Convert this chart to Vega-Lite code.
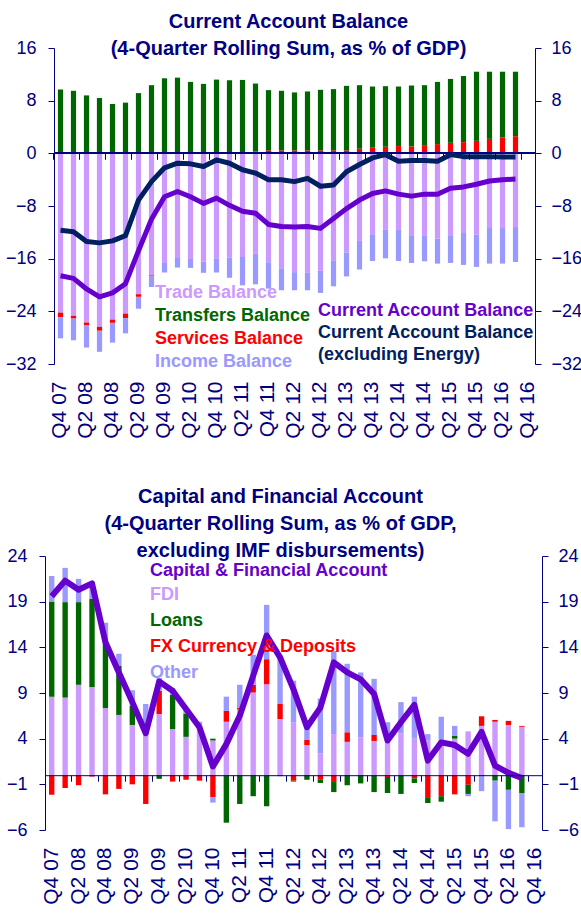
{
  "$schema": "https://vega.github.io/schema/vega-lite/v6.json",
  "background": "white",
  "padding": {"left": 0, "top": 12, "right": 0, "bottom": 0},
  "spacing": 48,
  "config": {
    "view": {"stroke": null},
    "font": "Liberation Sans",
    "axis": {"grid": false, "domainColor": "#000080", "tickColor": "#000080", "labelColor": "#000080", "labelFont": "Liberation Sans", "labelFontSize": 18, "tickSize": 6, "domainWidth": 1, "tickWidth": 1, "title": null}
  },
  "datasets": {
    "ca": [
      {"q": "Q4 07", "Trade Balance": -24.2, "Services Balance": -0.7, "Transfers Balance": 9.7, "Income Balance": -3.2, "ca": -18.6, "caxe": -11.7},
      {"q": "Q1 08", "Trade Balance": -24.7, "Services Balance": -0.4, "Transfers Balance": 9.5, "Income Balance": -3.3, "ca": -19.0, "caxe": -11.9},
      {"q": "Q2 08", "Trade Balance": -25.7, "Services Balance": -0.45, "Transfers Balance": 8.8, "Income Balance": -3.35, "ca": -20.6, "caxe": -13.4},
      {"q": "Q3 08", "Trade Balance": -26.35, "Services Balance": -0.6, "Transfers Balance": 8.4, "Income Balance": -3.2, "ca": -21.8, "caxe": -13.6},
      {"q": "Q4 08", "Trade Balance": -25.25, "Services Balance": -0.5, "Transfers Balance": 7.5, "Income Balance": -3.0, "ca": -21.2, "caxe": -13.3},
      {"q": "Q1 09", "Trade Balance": -24.35, "Services Balance": -0.7, "Transfers Balance": 7.7, "Income Balance": -2.3, "ca": -19.8, "caxe": -12.5},
      {"q": "Q2 09", "Trade Balance": -21.4, "Services Balance": -0.4, "Transfers Balance": 9.15, "Income Balance": -1.8, "ca": -14.8, "caxe": -7.1},
      {"q": "Q3 09", "Trade Balance": -18.55, "Services Balance": -0.15, "Transfers Balance": 10.35, "Income Balance": -1.6, "ca": -10.0, "caxe": -4.3},
      {"q": "Q4 09", "Trade Balance": -16.65, "Services Balance": 0, "Transfers Balance": 11.4, "Income Balance": -1.45, "ca": -6.6, "caxe": -2.2},
      {"q": "Q1 10", "Trade Balance": -15.9, "Services Balance": 0, "Transfers Balance": 11.5, "Income Balance": -1.45, "ca": -5.8, "caxe": -1.5},
      {"q": "Q2 10", "Trade Balance": -16.05, "Services Balance": 0, "Transfers Balance": 10.85, "Income Balance": -1.35, "ca": -6.6, "caxe": -1.6},
      {"q": "Q3 10", "Trade Balance": -16.45, "Services Balance": 0, "Transfers Balance": 10.55, "Income Balance": -1.7, "ca": -7.6, "caxe": -2.0},
      {"q": "Q4 10", "Trade Balance": -15.95, "Services Balance": 0, "Transfers Balance": 11.2, "Income Balance": -2.15, "ca": -6.8, "caxe": -1.0},
      {"q": "Q1 11", "Trade Balance": -15.85, "Services Balance": 0.1, "Transfers Balance": 11.0, "Income Balance": -3.05, "ca": -7.9, "caxe": -1.5},
      {"q": "Q2 11", "Trade Balance": -15.75, "Services Balance": 0.2, "Transfers Balance": 10.95, "Income Balance": -4.3, "ca": -8.8, "caxe": -2.5},
      {"q": "Q3 11", "Trade Balance": -15.25, "Services Balance": 0.3, "Transfers Balance": 10.3, "Income Balance": -4.65, "ca": -9.1, "caxe": -3.0},
      {"q": "Q4 11", "Trade Balance": -16.55, "Services Balance": 0.45, "Transfers Balance": 9.15, "Income Balance": -4.0, "ca": -10.8, "caxe": -4.0},
      {"q": "Q1 12", "Trade Balance": -17.55, "Services Balance": 0.45, "Transfers Balance": 9.05, "Income Balance": -3.25, "ca": -11.1, "caxe": -4.0},
      {"q": "Q2 12", "Trade Balance": -18.05, "Services Balance": 0.45, "Transfers Balance": 8.8, "Income Balance": -2.75, "ca": -11.2, "caxe": -4.3},
      {"q": "Q3 12", "Trade Balance": -18.15, "Services Balance": 0.45, "Transfers Balance": 8.95, "Income Balance": -2.65, "ca": -11.1, "caxe": -3.8},
      {"q": "Q4 12", "Trade Balance": -17.85, "Services Balance": 0.45, "Transfers Balance": 9.2, "Income Balance": -3.35, "ca": -11.4, "caxe": -5.0},
      {"q": "Q1 13", "Trade Balance": -16.25, "Services Balance": 0.45, "Transfers Balance": 9.3, "Income Balance": -3.95, "ca": -9.9, "caxe": -4.8},
      {"q": "Q2 13", "Trade Balance": -15.05, "Services Balance": 0.45, "Transfers Balance": 9.8, "Income Balance": -3.65, "ca": -8.4, "caxe": -2.8},
      {"q": "Q3 13", "Trade Balance": -13.3, "Services Balance": 0.7, "Transfers Balance": 9.65, "Income Balance": -4.35, "ca": -7.1, "caxe": -1.7},
      {"q": "Q4 13", "Trade Balance": -12.3, "Services Balance": 0.85, "Transfers Balance": 9.3, "Income Balance": -4.05, "ca": -6.1, "caxe": -0.7},
      {"q": "Q1 14", "Trade Balance": -11.55, "Services Balance": 1.0, "Transfers Balance": 9.2, "Income Balance": -4.4, "ca": -5.7, "caxe": -0.2},
      {"q": "Q2 14", "Trade Balance": -11.55, "Services Balance": 1.1, "Transfers Balance": 9.05, "Income Balance": -4.8, "ca": -6.2, "caxe": -1.2},
      {"q": "Q3 14", "Trade Balance": -12.55, "Services Balance": 1.05, "Transfers Balance": 9.25, "Income Balance": -4.1, "ca": -6.5, "caxe": -1.1},
      {"q": "Q4 14", "Trade Balance": -12.45, "Services Balance": 1.25, "Transfers Balance": 9.1, "Income Balance": -3.95, "ca": -6.2, "caxe": -1.1},
      {"q": "Q1 15", "Trade Balance": -12.95, "Services Balance": 1.4, "Transfers Balance": 9.45, "Income Balance": -3.8, "ca": -6.2, "caxe": -1.2},
      {"q": "Q2 15", "Trade Balance": -12.55, "Services Balance": 1.6, "Transfers Balance": 9.7, "Income Balance": -4.1, "ca": -5.3, "caxe": -0.2},
      {"q": "Q3 15", "Trade Balance": -12.1, "Services Balance": 1.7, "Transfers Balance": 10.05, "Income Balance": -4.85, "ca": -5.1, "caxe": -0.5},
      {"q": "Q4 15", "Trade Balance": -12.35, "Services Balance": 1.9, "Transfers Balance": 10.5, "Income Balance": -4.9, "ca": -4.7, "caxe": -0.5},
      {"q": "Q1 16", "Trade Balance": -11.35, "Services Balance": 2.2, "Transfers Balance": 10.2, "Income Balance": -5.4, "ca": -4.2, "caxe": -0.5},
      {"q": "Q2 16", "Trade Balance": -11.35, "Services Balance": 2.4, "Transfers Balance": 10.0, "Income Balance": -5.4, "ca": -4.0, "caxe": -0.55},
      {"q": "Q3 16", "Trade Balance": -11.2, "Services Balance": 2.6, "Transfers Balance": 9.8, "Income Balance": -5.3, "ca": -3.9, "caxe": -0.55}
    ],
    "cfa": [
      {"q": "Q4 07", "FDI": 8.6, "Loans": 10.35, "FX Currency & Deposits": -2.15, "Other": 2.85, "cfa": 19.6},
      {"q": "Q1 08", "FDI": 8.5, "Loans": 10.45, "FX Currency & Deposits": -1.4, "Other": 3.75, "cfa": 21.3},
      {"q": "Q2 08", "FDI": 9.9, "Loans": 9.05, "FX Currency & Deposits": -1.1, "Other": 2.55, "cfa": 20.3},
      {"q": "Q3 08", "FDI": 9.65, "Loans": 9.65, "FX Currency & Deposits": -0.15, "Other": 1.8, "cfa": 21.0},
      {"q": "Q4 08", "FDI": 7.35, "Loans": 7.05, "FX Currency & Deposits": -2.1, "Other": 2.3, "cfa": 14.55},
      {"q": "Q1 09", "FDI": 6.6, "Loans": 5.4, "FX Currency & Deposits": -1.5, "Other": 1.3, "cfa": 11.25},
      {"q": "Q2 09", "FDI": 5.5, "Loans": 2.1, "FX Currency & Deposits": -1.0, "Other": 1.7, "cfa": 8.0},
      {"q": "Q3 09", "FDI": 5.0, "Loans": 0, "FX Currency & Deposits": -3.15, "Other": 2.8, "cfa": 4.6},
      {"q": "Q4 09", "FDI": 6.7, "Loans": -0.4, "FX Currency & Deposits": 2.55, "Other": 1.4, "cfa": 10.25},
      {"q": "Q1 10", "FDI": 5.05, "Loans": 3.75, "FX Currency & Deposits": -0.7, "Other": 0.7, "cfa": 9.25},
      {"q": "Q2 10", "FDI": 4.2, "Loans": 2.5, "FX Currency & Deposits": -0.5, "Other": 0.6, "cfa": 7.25},
      {"q": "Q3 10", "FDI": 5.2, "Loans": 0, "FX Currency & Deposits": -0.6, "Other": 0.65, "cfa": 5.25},
      {"q": "Q4 10", "FDI": 3.8, "Loans": 0.2, "FX Currency & Deposits": -2.4, "Other": -0.6, "cfa": 0.95},
      {"q": "Q1 11", "FDI": 5.85, "Loans": -5.2, "FX Currency & Deposits": 1.2, "Other": 1.55, "cfa": 3.4},
      {"q": "Q2 11", "FDI": 7.2, "Loans": -3.15, "FX Currency & Deposits": 0.2, "Other": 2.5, "cfa": 6.5},
      {"q": "Q3 11", "FDI": 9.05, "Loans": -2.3, "FX Currency & Deposits": 0.85, "Other": 3.3, "cfa": 10.9},
      {"q": "Q4 11", "FDI": 9.95, "Loans": -3.4, "FX Currency & Deposits": 2.75, "Other": 5.95, "cfa": 15.3},
      {"q": "Q1 12", "FDI": 6.15, "Loans": -0.1, "FX Currency & Deposits": 1.7, "Other": 5.25, "cfa": 12.9},
      {"q": "Q2 12", "FDI": 5.8, "Loans": -0.1, "FX Currency & Deposits": -0.6, "Other": 4.55, "cfa": 9.4},
      {"q": "Q3 12", "FDI": 3.3, "Loans": -0.5, "FX Currency & Deposits": 0.6, "Other": 1.85, "cfa": 5.25},
      {"q": "Q4 12", "FDI": 2.4, "Loans": -0.35, "FX Currency & Deposits": -0.5, "Other": 6.0, "cfa": 7.4},
      {"q": "Q1 13", "FDI": 4.5, "Loans": -1.1, "FX Currency & Deposits": -0.75, "Other": 9.1, "cfa": 12.35},
      {"q": "Q2 13", "FDI": 3.65, "Loans": -1.1, "FX Currency & Deposits": 1.05, "Other": 7.5, "cfa": 11.25},
      {"q": "Q3 13", "FDI": 4.15, "Loans": -0.9, "FX Currency & Deposits": 0, "Other": 7.1, "cfa": 10.5},
      {"q": "Q4 13", "FDI": 3.75, "Loans": -1.85, "FX Currency & Deposits": 0.65, "Other": 6.15, "cfa": 8.9},
      {"q": "Q1 14", "FDI": 4.0, "Loans": -1.75, "FX Currency & Deposits": -0.2, "Other": 1.8, "cfa": 3.8},
      {"q": "Q2 14", "FDI": 4.6, "Loans": -2.05, "FX Currency & Deposits": 0, "Other": 3.4, "cfa": 5.8},
      {"q": "Q3 14", "FDI": 4.0, "Loans": -0.5, "FX Currency & Deposits": -0.35, "Other": 4.6, "cfa": 7.7},
      {"q": "Q4 14", "FDI": 3.8, "Loans": -0.65, "FX Currency & Deposits": -2.4, "Other": 0.7, "cfa": 1.6},
      {"q": "Q1 15", "FDI": 3.9, "Loans": -0.6, "FX Currency & Deposits": -2.3, "Other": 2.5, "cfa": 3.6},
      {"q": "Q2 15", "FDI": 4.0, "Loans": 0.3, "FX Currency & Deposits": -2.1, "Other": 1.1, "cfa": 3.3},
      {"q": "Q3 15", "FDI": 4.8, "Loans": -1.0, "FX Currency & Deposits": -1.05, "Other": -0.25, "cfa": 2.35},
      {"q": "Q4 15", "FDI": 5.4, "Loans": -0.1, "FX Currency & Deposits": 1.05, "Other": -1.65, "cfa": 4.75},
      {"q": "Q1 16", "FDI": 5.85, "Loans": -0.6, "FX Currency & Deposits": 0.2, "Other": -4.45, "cfa": 1.05},
      {"q": "Q2 16", "FDI": 5.5, "Loans": -1.6, "FX Currency & Deposits": 0.45, "Other": -4.3, "cfa": 0.25},
      {"q": "Q3 16", "FDI": 5.3, "Loans": -1.95, "FX Currency & Deposits": 0.1, "Other": -3.75, "cfa": -0.3}
    ]
  },
  "vconcat": [
    {
      "width": 490,
      "height": 316,
      "title": {"text": ["Current Account Balance", "(4-Quarter Rolling Sum, as % of GDP)"], "font": "Liberation Sans", "fontSize": 20, "fontWeight": "bold", "color": "#000080", "lineHeight": 27, "anchor": "middle", "frame": "group", "dx": -1.5, "offset": -20},
      "data": {"name": "ca"},
      "layer": [
        {
          "transform": [
            {"fold": ["Trade Balance", "Services Balance", "Transfers Balance", "Income Balance"]},
            {"window": [{"op": "row_number", "as": "k"}], "groupby": ["q"]}
          ],
          "mark": {"type": "bar", "width": {"band": 0.4}},
          "encoding": {
            "x": {"field": "q", "type": "nominal", "sort": null,
              "scale": {"domain": ["Q4 07","Q1 08","Q2 08","Q3 08","Q4 08","Q1 09","Q2 09","Q3 09","Q4 09","Q1 10","Q2 10","Q3 10","Q4 10","Q1 11","Q2 11","Q3 11","Q4 11","Q1 12","Q2 12","Q3 12","Q4 12","Q1 13","Q2 13","Q3 13","Q4 13","Q1 14","Q2 14","Q3 14","Q4 14","Q1 15","Q2 15","Q3 15","Q4 15","Q1 16","Q2 16","Q3 16","Q4 16"], "paddingInner": 0, "paddingOuter": 0.346, "align": 1},
              "axis": {"orient": "bottom", "values": ["Q4 07","Q2 08","Q4 08","Q2 09","Q4 09","Q2 10","Q4 10","Q2 11","Q4 11","Q2 12","Q4 12","Q2 13","Q4 13","Q2 14","Q4 14","Q2 15","Q4 15","Q2 16","Q4 16"], "domain": false, "ticks": false, "labelAngle": -90, "labelPadding": 17, "labelFontSize": 21, "labelOverlap": false, "labelBound": false, "title": null}},
            "y": {"field": "value", "type": "quantitative", "stack": "zero",
              "scale": {"domain": [-32, 16], "nice": false, "zero": false},
              "axis": {"orient": "left", "offset": -9, "values": [-32, -24, -16, -8, 0, 8, 16], "labelPadding": 12, "minExtent": 45, "maxExtent": 45, "title": null}},
            "fill": {"field": "key", "type": "nominal",
              "scale": {"domain": ["Trade Balance", "Transfers Balance", "Services Balance", "Income Balance"], "range": ["#CC99FF", "#006600", "#FF0000", "#9999FF"]},
              "legend": {"orient": "none", "legendX": 92, "legendY": 236, "title": null, "symbolSize": 0, "symbolStrokeWidth": 0, "symbolOpacity": 0, "labelOffset": 0, "labelFont": "Liberation Sans", "labelFontWeight": "bold", "labelFontSize": 18, "labelLimit": 600, "rowPadding": 5, "padding": 0,
                "encode": {"labels": {"update": {"fill": {"signal": "datum.value == 'Trade Balance' ? '#CC99FF' : datum.value == 'Transfers Balance' ? '#006600' : datum.value == 'Services Balance' ? '#FF0000' : '#9999FF'"}}}}}},
            "order": {"field": "k", "type": "quantitative", "sort": "ascending"}
          }
        },
        {
          "mark": {"type": "rule", "color": "#000080", "strokeWidth": 1},
          "encoding": {
            "x": {"datum": "Q4 07", "type": "nominal", "bandPosition": 0, "axis": null},
            "x2": {"value": "width"},
            "y": {"datum": 0, "type": "quantitative", "axis": null}
          }
        },
        {
          "mark": {"type": "line", "strokeWidth": 5, "strokeJoin": "round"},
          "encoding": {
            "x": {"field": "q", "type": "nominal", "sort": null, "axis": null},
            "y": {"field": "caxe", "type": "quantitative", "axis": null},
            "stroke": {"datum": "Current Account Balance (excluding Energy)", "type": "nominal"}
          }
        },
        {
          "mark": {"type": "line", "strokeWidth": 5, "strokeJoin": "round"},
          "encoding": {
            "x": {"field": "q", "type": "nominal", "sort": null,
              "axis": {"orient": "bottom", "offset": -210.7, "values": ["Q4 07","Q2 08","Q4 08","Q2 09","Q4 09","Q2 10","Q4 10","Q2 11","Q4 11","Q2 12","Q4 12","Q2 13","Q4 13","Q2 14","Q4 14","Q2 15","Q4 15","Q2 16","Q4 16"], "labels": false, "domain": false, "bandPosition": 0, "tickSize": 6, "title": null, "zindex": 1}},
            "y": {"field": "ca", "type": "quantitative",
              "axis": {"orient": "right", "values": [-32, -24, -16, -8, 0, 8, 16], "labelPadding": 10, "title": null}},
            "stroke": {"datum": "Current Account Balance", "type": "nominal",
              "scale": {"domain": ["Current Account Balance", "Current Account Balance (excluding Energy)"], "range": ["#6600CC", "#002060"]},
              "legend": {"orient": "none", "legendX": 255, "legendY": 254, "title": null, "symbolSize": 0, "symbolStrokeWidth": 0, "symbolOpacity": 0, "labelOffset": 0, "labelFont": "Liberation Sans", "labelFontWeight": "bold", "labelFontSize": 18, "labelLimit": 600, "rowPadding": 4, "padding": 0,
                "labelExpr": "datum.label == 'Current Account Balance (excluding Energy)' ? ['Current Account Balance', '(excluding Energy)'] : datum.label",
                "encode": {"labels": {"update": {"lineHeight": {"value": 22}, "fill": {"signal": "datum.value == 'Current Account Balance' ? '#6600CC' : '#002060'"}}}}}}
          }
        }
      ],
      "resolve": {"axis": {"x": "independent", "y": "independent"}}
    },
    {
      "width": 497,
      "height": 274,
      "title": {"text": ["Capital and Financial Account", "(4-Quarter Rolling Sum, as % of GDP,", "excluding IMF disbursements)"], "font": "Liberation Sans", "fontSize": 20, "fontWeight": "bold", "color": "#000080", "lineHeight": 27, "anchor": "middle", "frame": "group", "dx": -13, "offset": -14},
      "data": {"name": "cfa"},
      "layer": [
        {
          "transform": [
            {"fold": ["FDI", "FX Currency & Deposits", "Loans", "Other"]},
            {"window": [{"op": "row_number", "as": "k"}], "groupby": ["q"]}
          ],
          "mark": {"type": "bar", "width": {"band": 0.4}},
          "encoding": {
            "x": {"field": "q", "type": "nominal", "sort": null,
              "scale": {"domain": ["Q4 07","Q1 08","Q2 08","Q3 08","Q4 08","Q1 09","Q2 09","Q3 09","Q4 09","Q1 10","Q2 10","Q3 10","Q4 10","Q1 11","Q2 11","Q3 11","Q4 11","Q1 12","Q2 12","Q3 12","Q4 12","Q1 13","Q2 13","Q3 13","Q4 13","Q1 14","Q2 14","Q3 14","Q4 14","Q1 15","Q2 15","Q3 15","Q4 15","Q1 16","Q2 16","Q3 16","Q4 16"], "paddingInner": 0, "paddingOuter": 0},
              "axis": {"orient": "bottom", "values": ["Q4 07","Q2 08","Q4 08","Q2 09","Q4 09","Q2 10","Q4 10","Q2 11","Q4 11","Q2 12","Q4 12","Q2 13","Q4 13","Q2 14","Q4 14","Q2 15","Q4 15","Q2 16","Q4 16"], "domain": false, "ticks": false, "labelAngle": -90, "labelPadding": 17, "labelFontSize": 21, "labelOverlap": false, "labelBound": false, "title": null}},
            "y": {"field": "value", "type": "quantitative", "stack": "zero",
              "scale": {"domain": [-6, 24], "nice": false, "zero": false},
              "axis": {"orient": "left", "values": [-6, -1, 4, 9, 14, 19, 24], "labelPadding": 12, "minExtent": 45, "maxExtent": 45, "title": null}},
            "fill": {"field": "key", "type": "nominal",
              "scale": {"domain": ["FDI", "Loans", "FX Currency & Deposits", "Other"], "range": ["#CC99FF", "#006600", "#FF0000", "#9999FF"]},
              "legend": {"orient": "none", "legendX": 87, "legendY": 30, "title": null, "symbolSize": 0, "symbolStrokeWidth": 0, "symbolOpacity": 0, "labelOffset": 0, "labelFont": "Liberation Sans", "labelFontWeight": "bold", "labelFontSize": 18, "labelLimit": 600, "rowPadding": 8, "padding": 0,
                "encode": {"labels": {"update": {"fill": {"signal": "datum.value == 'FDI' ? '#CC99FF' : datum.value == 'Loans' ? '#006600' : datum.value == 'FX Currency & Deposits' ? '#FF0000' : '#9999FF'"}}}}}},
            "order": {"field": "k", "type": "quantitative", "sort": "ascending"}
          }
        },
        {
          "mark": {"type": "line", "strokeWidth": 6, "strokeJoin": "round"},
          "encoding": {
            "x": {"field": "q", "type": "nominal", "sort": null,
              "axis": {"orient": "bottom", "offset": -54.8, "values": ["Q4 07","Q2 08","Q4 08","Q2 09","Q4 09","Q2 10","Q4 10","Q2 11","Q4 11","Q2 12","Q4 12","Q2 13","Q4 13","Q2 14","Q4 14","Q2 15","Q4 15","Q2 16","Q4 16"], "labels": false, "bandPosition": 0, "tickSize": 6, "title": null, "zindex": 1}},
            "y": {"field": "cfa", "type": "quantitative",
              "axis": {"orient": "right", "values": [-6, -1, 4, 9, 14, 19, 24], "labelPadding": 10, "title": null}},
            "stroke": {"datum": "Capital & Financial Account", "type": "nominal",
              "scale": {"domain": ["Capital & Financial Account"], "range": ["#6600CC"]},
              "legend": {"orient": "none", "legendX": 87, "legendY": 6, "title": null, "symbolSize": 0, "symbolStrokeWidth": 0, "symbolOpacity": 0, "labelOffset": 0, "labelFont": "Liberation Sans", "labelFontWeight": "bold", "labelFontSize": 18, "labelLimit": 600, "padding": 0,
                "encode": {"labels": {"update": {"fill": {"value": "#6600CC"}}}}}}
          }
        }
      ],
      "resolve": {"axis": {"x": "independent", "y": "independent"}}
    }
  ],
  "resolve": {"scale": {"fill": "independent", "stroke": "independent"}, "legend": {"fill": "independent", "stroke": "independent"}}
}
